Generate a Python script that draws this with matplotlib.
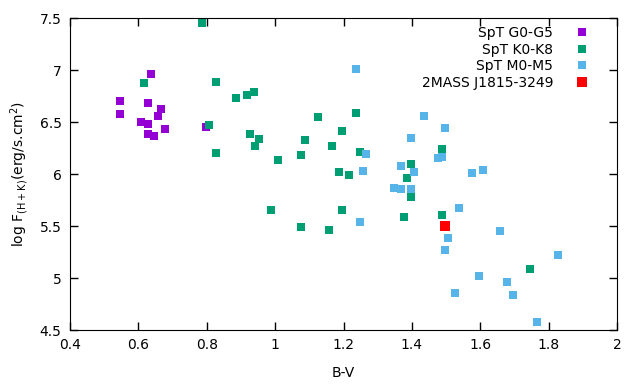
import matplotlib.pyplot as plt
from matplotlib.ticker import FuncFormatter

# SpT G0-G5
g_bv = [0.546, 0.546, 0.637, 0.628, 0.607, 0.628, 0.628, 0.646, 0.666, 0.657, 0.678, 0.798]
g_flux = [6.70, 6.577, 6.96, 6.68, 6.50, 6.48, 6.385, 6.365, 6.625, 6.56, 6.43, 6.45]

# SpT K0-K8
k_bv = [0.787, 0.617, 0.828, 0.886, 0.919, 0.939, 0.807, 0.927, 0.954, 0.941, 0.828,
        1.009, 1.126, 1.088, 1.076, 1.196, 1.167, 1.237, 1.249, 1.188, 1.217, 0.989,
        1.196, 1.076, 1.158, 1.398, 1.387, 1.398, 1.378, 1.489, 1.489, 1.746]
k_flux = [7.449, 6.872, 6.882, 6.728, 6.757, 6.786, 6.468, 6.382, 6.334, 6.266, 6.199,
          6.132, 6.545, 6.324, 6.18, 6.41, 6.266, 6.584, 6.209, 6.016, 5.988, 5.65,
          5.65, 5.488, 5.459, 6.093, 5.959, 5.776, 5.584, 6.237, 5.603, 5.084]

# SpT M0-M5
m_bv = [1.237, 1.267, 1.258, 1.349, 1.369, 1.398, 1.436, 1.498, 1.398, 1.477, 1.489,
        1.369, 1.407, 1.539, 1.249, 1.507, 1.498, 1.577, 1.609, 1.659, 1.828, 1.597,
        1.679, 1.697, 1.527, 1.767]
m_flux = [7.007, 6.19, 6.026, 5.862, 5.853, 5.853, 6.555, 6.439, 6.343, 6.151, 6.16,
          6.074, 6.016, 5.67, 5.536, 5.382, 5.272, 6.006, 6.035, 5.449, 5.218, 5.016,
          4.959, 4.834, 4.853, 4.574]

# 2MASS J1815-3249
star_bv = [1.498]
star_flux = [5.497]

fig = plt.figure(figsize=(6.4, 3.84), dpi=100)
ax = fig.add_axes([70 / 640, 1 - 330 / 384, 547 / 640, 312 / 384])

ax.plot(g_bv, g_flux, 's', color='#9400d3', markersize=5.8, markeredgewidth=0, label='SpT G0-G5')
ax.plot(k_bv, k_flux, 's', color='#009e73', markersize=5.8, markeredgewidth=0, label='SpT K0-K8')
ax.plot(m_bv, m_flux, 's', color='#56b4e9', markersize=5.8, markeredgewidth=0, label='SpT M0-M5')
ax.plot(star_bv, star_flux, 's', color='#ff0000', markersize=7.4, markeredgewidth=0,
        label='2MASS J1815-3249')

ax.set_xlim(0.4, 2)
ax.set_ylim(4.5, 7.5)
ax.set_xticks([0.4, 0.6, 0.8, 1.0, 1.2, 1.4, 1.6, 1.8, 2.0])
ax.set_yticks([4.5, 5, 5.5, 6, 6.5, 7, 7.5])
ax.xaxis.set_major_formatter(FuncFormatter(lambda v, p: f'{v:g}'))
ax.yaxis.set_major_formatter(FuncFormatter(lambda v, p: f'{v:g}'))
ax.tick_params(direction='in', top=True, right=True, length=6, width=1, labelsize=10, pad=6)

ax.set_xlabel('B-V', fontsize=10, labelpad=10)
ax.set_ylabel(r'log F$_{\mathregular{(H+K)}}$(erg/s.cm$^{\mathregular{2}}$)', fontsize=10, labelpad=6)

# legend like gnuplot: text right-aligned, marker on the right
leg = ax.legend(loc='upper right', bbox_to_anchor=(0.958, 0.993), borderaxespad=0,
                markerfirst=False, frameon=False, fontsize=10,
                labelspacing=0.2, handlelength=1.0, handletextpad=1.55,
                borderpad=0.4, numpoints=1)

fig.savefig('out.png', dpi=100)
